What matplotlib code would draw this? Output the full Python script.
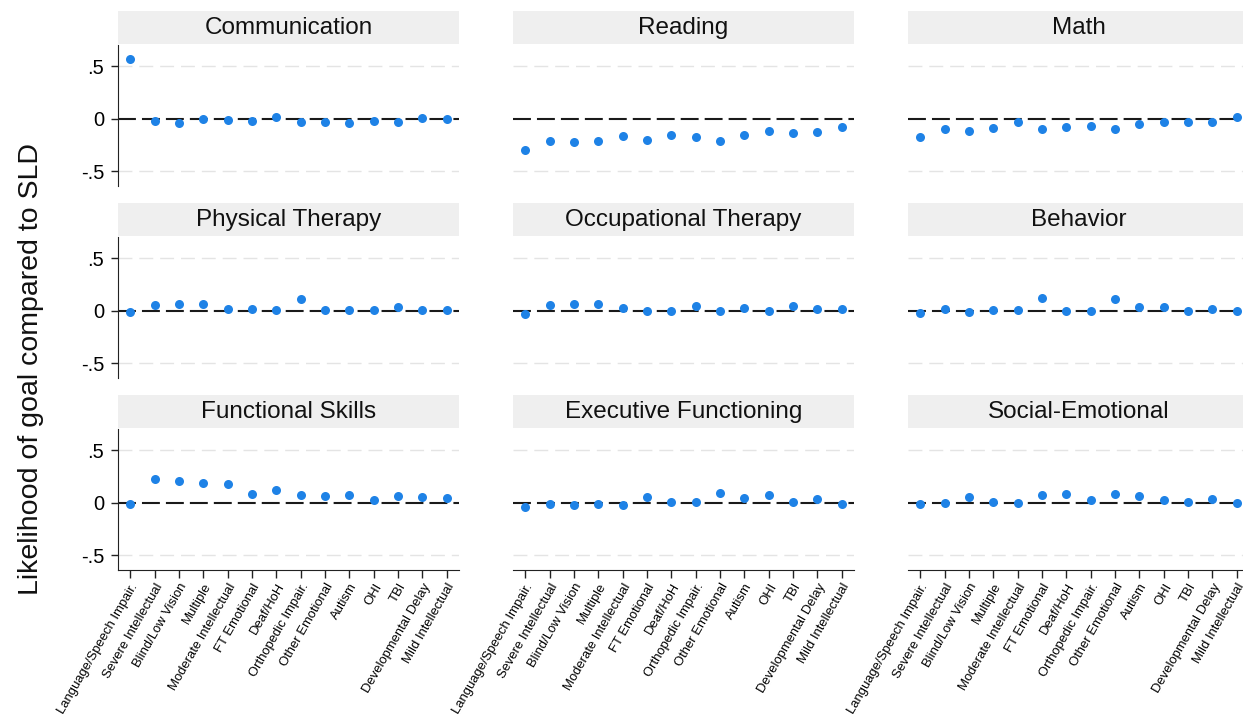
import matplotlib
matplotlib.use("Agg")
import matplotlib.pyplot as plt
from matplotlib.patches import Rectangle

plt.rcParams['font.family'] = ['Liberation Sans', 'DejaVu Sans']

# Disability categories (x axis), same order in every panel
categories = ['Language/Speech Impair.', 'Severe Intellectual', 'Blind/Low Vision',
              'Multiple', 'Moderate Intellectual', 'FT Emotional', 'Deaf/HoH',
              'Orthopedic Impair.', 'Other Emotional', 'Autism', 'OHI', 'TBI',
              'Developmental Delay', 'Mild Intellectual']

# Goal areas (panel titles)
goal_areas = ['Communication', 'Reading', 'Math',
              'Physical Therapy', 'Occupational Therapy', 'Behavior',
              'Functional Skills', 'Executive Functioning', 'Social-Emotional']

# Estimated difference in likelihood of goal compared to SLD
communication = [0.57, -0.025, -0.04, -0.006, -0.01, -0.025, 0.016,
                 -0.035, -0.029, -0.044, -0.022, -0.029, 0.006, 0.0]
reading = [-0.298, -0.213, -0.219, -0.21, -0.162, -0.206, -0.159,
           -0.178, -0.21, -0.156, -0.114, -0.133, -0.13, -0.079]
math = [-0.178, -0.098, -0.121, -0.086, -0.035, -0.098, -0.083,
        -0.07, -0.098, -0.051, -0.029, -0.029, -0.035, 0.013]
physical_therapy = [-0.013, 0.054, 0.063, 0.063, 0.019, 0.013, 0.006,
                    0.114, 0.006, 0.006, 0.006, 0.038, 0.009, 0.009]
occupational_therapy = [-0.028, 0.05, 0.063, 0.06, 0.028, 0.0, -0.003,
                        0.047, -0.003, 0.022, 0.0, 0.044, 0.013, 0.013]
behavior = [-0.019, 0.019, -0.009, 0.006, 0.006, 0.12, -0.003,
            -0.006, 0.107, 0.032, 0.032, 0.0, 0.019, 0.0]
functional_skills = [-0.013, 0.222, 0.203, 0.19, 0.174, 0.085, 0.12,
                     0.073, 0.063, 0.073, 0.028, 0.063, 0.051, 0.041]
executive_functioning = [-0.044, -0.009, -0.019, -0.009, -0.019, 0.054, 0.003,
                         0.006, 0.092, 0.047, 0.07, 0.006, 0.038, -0.009]
social_emotional = [-0.013, 0.0, 0.057, 0.006, -0.003, 0.073, 0.085,
                    0.022, 0.085, 0.063, 0.022, 0.009, 0.035, 0.0]

values = [communication, reading, math,
          physical_therapy, occupational_therapy, behavior,
          functional_skills, executive_functioning, social_emotional]

y_ticks = [-0.5, 0, 0.5]
y_tick_labels = ['-.5', '0', '.5']

W, H = 1243, 717
fig = plt.figure(figsize=(W / 100, H / 100), dpi=100)

# panel geometry in pixels
col_left = [118, 513, 908]
row_top = [45, 237, 429]
pw, ph = 341, 141
strip_h = 33

x = list(range(1, len(categories) + 1))

for i, (title, vals) in enumerate(zip(goal_areas, values)):
    r, c = divmod(i, 3)
    ax = fig.add_axes([col_left[c] / W, 1 - (row_top[r] + ph) / H, pw / W, ph / H])

    # light dashed grid lines at +/- .5
    for yv in (-0.5, 0.5):
        ax.axhline(yv, color='#e4e4e4', lw=1, dashes=(10, 5), zorder=1)
    # reference line at zero
    ax.axhline(0, color='#1a1a1a', lw=1.5, dashes=(8.6, 2.9), zorder=2)

    ax.plot(x, vals, 'o', color='#1e82e6', ms=6.5, mec='none', zorder=3)

    ax.set_xlim(0.5, 14.5)
    ax.set_ylim(-0.64, 0.70)

    for s in ('top', 'right'):
        ax.spines[s].set_visible(False)
    ax.spines['left'].set_visible(c == 0)
    ax.spines['bottom'].set_visible(r == 2)
    ax.spines['left'].set_color('#222222')
    ax.spines['bottom'].set_color('#222222')

    ax.set_yticks(y_ticks)
    if c == 0:
        ax.set_yticklabels(y_tick_labels, fontsize=14.5)
        ax.tick_params(axis='y', length=5, width=1, color='#222222', pad=5)
    else:
        ax.tick_params(axis='y', left=False, labelleft=False)

    ax.set_xticks(x)
    if r == 2:
        ax.set_xticklabels(categories, rotation=60, ha='right',
                           rotation_mode='anchor', fontsize=9.4)
        ax.tick_params(axis='x', length=6, width=1, color='#222222', pad=2)
    else:
        ax.tick_params(axis='x', bottom=False, labelbottom=False)

    # grey title strip above each panel
    sh = strip_h / ph
    ax.add_patch(Rectangle((0, 1.005), 1, sh, transform=ax.transAxes,
                           facecolor='#efefef', edgecolor='none', clip_on=False))
    ax.text(0.5, 1.005 + sh / 2, title, transform=ax.transAxes, ha='center',
            va='center', fontsize=17.5, color='#111111')

fig.text(0.025, 0.485, 'Likelihood of goal compared to SLD', rotation=90,
         ha='center', va='center', fontsize=20.5, color='#111111')

fig.savefig('out.png', dpi=100)
